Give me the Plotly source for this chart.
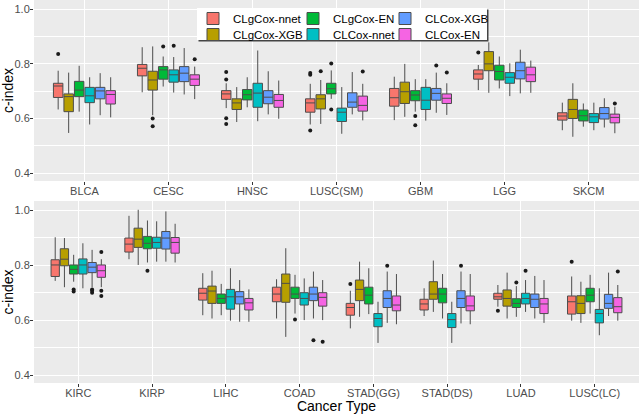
"""Boxplots of c-index by cancer type for six Cox models"""
import plotly.graph_objects as go

# series (legend order) and ggplot hue colours
series = ["CLgCox-nnet", "CLgCox-XGB", "CLgCox-EN", "CLCox-nnet", "CLCox-XGB", "CLCox-EN"]
colors = ["#F8766D", "#B79F00", "#00BA38", "#00BFC4", "#619CFF", "#F564E3"]

### top panel ###
top_cats = ["BLCA", "CESC", "HNSC", "LUSC(SM)", "GBM", "LGG", "SKCM"]
# one row per series, one value per cancer type
top_upper = [
    [0.775, 0.861, 0.729, 0.727, 0.753, 0.796, 0.658],
    [0.768, 0.864, 0.715, 0.741, 0.800, 0.879, 0.729],
    [0.793, 0.827, 0.751, 0.776, 0.744, 0.827, 0.655],
    [0.751, 0.825, 0.849, 0.715, 0.744, 0.802, 0.658],
    [0.766, 0.858, 0.773, 0.770, 0.768, 0.852, 0.674],
    [0.751, 0.790, 0.739, 0.727, 0.729, 0.812, 0.643],
]
top_q3 = [
    [0.729, 0.798, 0.702, 0.672, 0.710, 0.778, 0.621],
    [0.690, 0.773, 0.672, 0.687, 0.733, 0.845, 0.670],
    [0.736, 0.790, 0.706, 0.729, 0.702, 0.795, 0.631],
    [0.714, 0.778, 0.729, 0.638, 0.714, 0.768, 0.618],
    [0.714, 0.790, 0.702, 0.694, 0.710, 0.806, 0.640],
    [0.702, 0.760, 0.688, 0.682, 0.690, 0.788, 0.616],
]
top_med = [
    [0.719, 0.784, 0.690, 0.657, 0.676, 0.763, 0.609],
    [0.680, 0.741, 0.657, 0.672, 0.698, 0.800, 0.633],
    [0.704, 0.778, 0.687, 0.709, 0.686, 0.772, 0.610],
    [0.683, 0.760, 0.693, 0.623, 0.667, 0.751, 0.606],
    [0.701, 0.766, 0.678, 0.660, 0.692, 0.775, 0.618],
    [0.688, 0.744, 0.666, 0.648, 0.674, 0.760, 0.604],
]
top_q1 = [
    [0.677, 0.756, 0.670, 0.623, 0.645, 0.744, 0.594],
    [0.625, 0.704, 0.633, 0.635, 0.655, 0.775, 0.600],
    [0.680, 0.744, 0.668, 0.690, 0.665, 0.741, 0.591],
    [0.658, 0.733, 0.641, 0.589, 0.633, 0.729, 0.585],
    [0.672, 0.735, 0.654, 0.641, 0.667, 0.745, 0.598],
    [0.653, 0.721, 0.641, 0.627, 0.655, 0.735, 0.584],
]
top_lower = [
    [0.633, 0.696, 0.638, 0.578, 0.594, 0.704, 0.557],
    [0.547, 0.612, 0.587, 0.580, 0.606, 0.694, 0.533],
    [0.625, 0.717, 0.641, 0.672, 0.625, 0.710, 0.570],
    [0.578, 0.695, 0.590, 0.544, 0.592, 0.682, 0.557],
    [0.612, 0.688, 0.615, 0.615, 0.621, 0.692, 0.567],
    [0.604, 0.671, 0.599, 0.593, 0.613, 0.694, 0.546],
]
# outliers: (cancer type index, series index, c-index)
top_out = [
    (0, 0, 0.836),
    (1, 1, 0.600), (1, 1, 0.572), (1, 2, 0.864), (1, 3, 0.866), (1, 5, 0.817),
    (2, 0, 0.770), (2, 0, 0.743), (2, 0, 0.601), (2, 0, 0.580),
    (3, 0, 0.767), (3, 0, 0.760), (3, 0, 0.556), (3, 1, 0.773),
    (3, 2, 0.801), (3, 2, 0.633), (3, 5, 0.772),
    (4, 2, 0.609), (4, 2, 0.575), (4, 4, 0.794), (4, 5, 0.768),
    (5, 0, 0.842),
    (6, 5, 0.655),
]

### bottom panel ###
bot_cats = ["KIRC", "KIRP", "LIHC", "COAD", "STAD(GG)", "STAD(DS)", "LUAD", "LUSC(LC)"]
bot_upper = [
    [0.902, 0.980, 0.771, 0.749, 0.707, 0.716, 0.728, 0.759],
    [0.899, 1.002, 0.780, 0.862, 0.813, 0.817, 0.773, 0.740],
    [0.838, 0.963, 0.732, 0.765, 0.789, 0.768, 0.724, 0.765],
    [0.880, 0.960, 0.789, 0.752, 0.667, 0.667, 0.746, 0.716],
    [0.856, 0.996, 0.746, 0.777, 0.777, 0.777, 0.761, 0.773],
    [0.822, 0.951, 0.712, 0.746, 0.768, 0.768, 0.746, 0.728],
]
bot_q3 = [
    [0.820, 0.899, 0.716, 0.720, 0.661, 0.676, 0.698, 0.688],
    [0.860, 0.935, 0.724, 0.768, 0.746, 0.740, 0.710, 0.689],
    [0.801, 0.905, 0.695, 0.720, 0.720, 0.716, 0.678, 0.716],
    [0.823, 0.902, 0.712, 0.700, 0.624, 0.624, 0.698, 0.639],
    [0.810, 0.923, 0.704, 0.720, 0.707, 0.707, 0.695, 0.694],
    [0.801, 0.901, 0.679, 0.700, 0.688, 0.688, 0.679, 0.682],
]
bot_med = [
    [0.801, 0.877, 0.698, 0.695, 0.646, 0.659, 0.685, 0.667],
    [0.822, 0.895, 0.706, 0.734, 0.712, 0.695, 0.679, 0.661],
    [0.785, 0.880, 0.679, 0.695, 0.691, 0.695, 0.661, 0.691],
    [0.801, 0.883, 0.685, 0.679, 0.606, 0.602, 0.679, 0.624],
    [0.793, 0.899, 0.685, 0.695, 0.679, 0.679, 0.676, 0.661],
    [0.780, 0.883, 0.663, 0.683, 0.655, 0.652, 0.659, 0.649],
]
bot_q1 = [
    [0.759, 0.848, 0.673, 0.667, 0.618, 0.637, 0.676, 0.622],
    [0.798, 0.865, 0.661, 0.665, 0.671, 0.676, 0.651, 0.624],
    [0.768, 0.860, 0.661, 0.679, 0.659, 0.663, 0.646, 0.667],
    [0.768, 0.862, 0.640, 0.655, 0.576, 0.573, 0.659, 0.590],
    [0.773, 0.859, 0.659, 0.671, 0.646, 0.646, 0.646, 0.643],
    [0.756, 0.844, 0.637, 0.651, 0.634, 0.634, 0.624, 0.627],
]
bot_lower = [
    [0.743, 0.822, 0.618, 0.606, 0.570, 0.615, 0.649, 0.598],
    [0.720, 0.801, 0.606, 0.539, 0.612, 0.630, 0.606, 0.590],
    [0.740, 0.810, 0.618, 0.624, 0.622, 0.606, 0.612, 0.624],
    [0.716, 0.813, 0.598, 0.600, 0.517, 0.517, 0.630, 0.545],
    [0.720, 0.813, 0.594, 0.606, 0.590, 0.588, 0.606, 0.615],
    [0.720, 0.810, 0.594, 0.600, 0.585, 0.585, 0.590, 0.598],
]
bot_out = [
    (0, 2, 0.712), (0, 2, 0.704), (0, 4, 0.712), (0, 4, 0.707), (0, 4, 0.700),
    (0, 5, 0.848), (0, 5, 0.707), (0, 5, 0.688),
    (1, 2, 0.780),
    (3, 2, 0.602), (3, 4, 0.527), (3, 5, 0.521),
    (4, 0, 0.732), (4, 4, 0.798),
    (5, 4, 0.798),
    (6, 0, 0.634), (6, 2, 0.737), (6, 3, 0.780),
    (7, 0, 0.813), (7, 5, 0.777),
]

FONT = "Liberation Sans, Arial, sans-serif"
DODGE = 0.75 / len(series)   # ggplot dodge width split between series
BOXW = DODGE * 0.9


def pos(c, s):
    """x position of series s inside category c (dodged)"""
    return c + 1 + (s - (len(series) - 1) / 2) * DODGE


def add_panel(fig, cats, lower, q1, med, q3, upper, outl, xa, ya, legend):
    for s, name in enumerate(series):
        fig.add_trace(go.Box(
            x=[pos(c, s) for c in range(len(cats))],
            lowerfence=lower[s], q1=q1[s], median=med[s], q3=q3[s], upperfence=upper[s],
            name=name, width=BOXW, whiskerwidth=0, boxpoints=False,
            fillcolor=colors[s], line=dict(color="#4d4d4d", width=1),
            xaxis=xa, yaxis=ya, showlegend=legend,
            legend="legend" if s == 0 else "legend" + str(s + 1),
        ))
    fig.add_trace(go.Scatter(
        x=[pos(c, s) for c, s, v in outl], y=[v for c, s, v in outl],
        mode="markers", marker=dict(color="#1a1a1a", size=4),
        xaxis=xa, yaxis=ya, showlegend=False,
    ))


fig = go.Figure()
add_panel(fig, top_cats, top_lower, top_q1, top_med, top_q3, top_upper, top_out, "x", "y", True)
add_panel(fig, bot_cats, bot_lower, bot_q1, bot_med, bot_q3, bot_upper, bot_out, "x2", "y2", False)

H = 383  # plot area height in px (414 - bottom margin)
W = 605


def xaxis(cats, anchor, title):
    return dict(
        domain=[0, 1], range=[0.4, len(cats) + 0.6], tickmode="array",
        tickvals=list(range(1, len(cats) + 1)), ticktext=cats,
        ticks="outside", ticklen=3, tickcolor="#333333", ticklabelstandoff=-3,
        tickfont=dict(size=11, color="#4D4D4D"),
        showgrid=True, gridcolor="white", gridwidth=1.1, zeroline=False,
        anchor=anchor, title=dict(text=title, font=dict(size=14, color="black"), standoff=6),
    )


def yaxis(domain, anchor):
    return dict(
        domain=domain, range=[0.371, 1.034], tick0=0.4, dtick=0.2, tickformat=".1f",
        ticks="outside", ticklen=3, tickcolor="#333333", ticklabelstandoff=-2,
        tickfont=dict(size=11, color="#4D4D4D"),
        showgrid=True, gridcolor="white", gridwidth=1.1, zeroline=False,
        minor=dict(tick0=0.4, dtick=0.1, showgrid=True, gridcolor="white", gridwidth=0.5),
        anchor=anchor, title=dict(text="c-index", font=dict(size=14, color="black"), standoff=3),
    )


fig.update_layout(
    width=640, height=414,
    margin=dict(l=34, r=1, t=0, b=31),
    paper_bgcolor="white", plot_bgcolor="#EBEBEB",
    font=dict(family=FONT, color="black"),
    boxmode="overlay",
    xaxis=xaxis(top_cats, "y", ""),
    yaxis=yaxis([1 - 181 / H, 1], "x"),
    xaxis2=xaxis(bot_cats, "y2", "Cancer Type"),
    yaxis2=yaxis([0, (H - 201) / H], "x2"),
)

# legend: 2 rows x 3 columns, filled by column like ggplot
col_px = [193, 293, 385]
row_px = [4, 20]
for s in range(len(series)):
    key = "legend" if s == 0 else "legend" + str(s + 1)
    fig.update_layout({key: dict(
        x=(col_px[s // 2] - 34) / W, y=1 - row_px[s % 2] / H,
        xanchor="left", yanchor="top", bgcolor="rgba(0,0,0,0)",
        font=dict(size=11.5, color="black"), borderwidth=0,
    )})

# white legend box with a thin shadow on right / bottom
lx0, lx1, ly0, ly1 = (197 - 34) / W, (487 - 34) / W, 1 - 40 / H, 1 - 8 / H
fig.add_shape(type="rect", xref="paper", yref="paper", layer="above",
              x0=lx0 + 1.5 / W, x1=lx1 + 1.5 / W, y0=ly0 - 1.5 / H, y1=ly1 - 1.5 / H,
              fillcolor="#444444", line=dict(width=0))
fig.add_shape(type="rect", xref="paper", yref="paper", layer="above",
              x0=lx0, x1=lx1, y0=ly0, y1=ly1,
              fillcolor="white", line=dict(width=0))

# page body has an 8px default margin; drop it so the chart sits at the corner
fig.write_html("out.html", config={"displayModeBar": False},
               post_script="document.body.style.margin='0';")
